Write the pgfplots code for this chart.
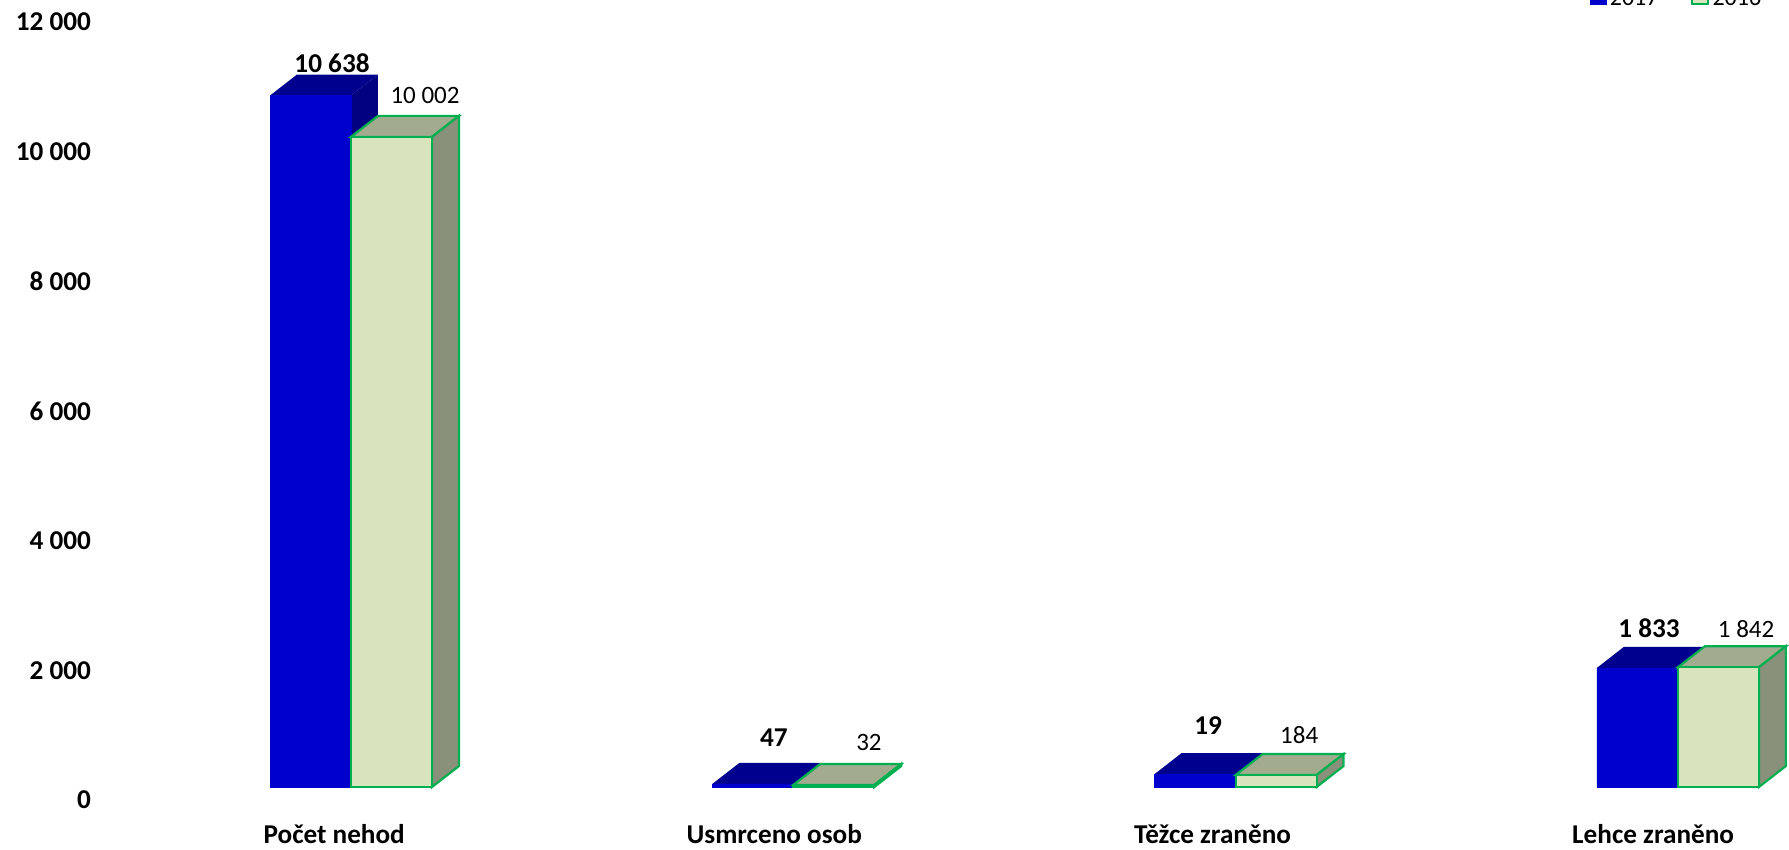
\documentclass[border=0pt]{standalone}
\usepackage{fontspec}
\setmainfont{Carlito}
\usepackage{pgfplots}
\pgfplotsset{compat=1.18}
\definecolor{bf}{HTML}{0000CC}
\definecolor{bt}{HTML}{00008F}
\definecolor{bs}{HTML}{000080}
\definecolor{gf}{HTML}{D8E4BC}
\definecolor{gt}{HTML}{A3AB8F}
\definecolor{gs}{HTML}{8A917A}
\definecolor{ge}{HTML}{00B050}
\newcommand\bfsz{\bfseries\fontsize{13.6}{16}\selectfont}
\newcommand\rgsz{\fontsize{12.5}{15}\selectfont}
% depth of the 3D look: dx in category units, dy in value units
\newcommand\faces[6]{% x0, x1, value, top colour, side colour, edge style
  \pgfmathsetmacro\xa{#1}\pgfmathsetmacro\xb{#2}%
  \pgfmathsetmacro\xc{#1+0.061}\pgfmathsetmacro\xd{#2+0.061}%
  \pgfmathsetmacro\yt{#3+323}%
  \addplot[forget plot,fill=#4,#6] coordinates {(\xa,#3)(\xb,#3)(\xd,\yt)(\xc,\yt)} -- cycle;
  \addplot[forget plot,fill=#5,#6] coordinates {(\xb,#3)(\xd,\yt)(\xd,323)(\xb,0)} -- cycle;
}
\begin{document}
\begin{tikzpicture}[x=1pt,y=1pt]
\path[use as bounding box] (0,0) rectangle (894.5,425);
\begin{axis}[
  at={(0,0)},anchor=south west,
  scale only axis,width=894.5pt,height=425pt,
  clip=false,
  xmin=-0.7936,xmax=3.2512,
  ymin=-969,ymax=12108,
  axis line style={draw=none},
  tick style={draw=none},
  xtick={-0.038,0.957,1.948,2.944},
  xticklabels={Počet nehod,Usmrceno osob,Těžce zraněno,Lehce zraněno},
  xticklabel style={font=\bfsz,anchor=center,yshift=8pt},
  ytick={-200,1795,3790,5785,7780,9775,11769},
  yticklabels={0,2 000,4 000,6 000,8 000,10 000,12 000},
  yticklabel style={font=\bfsz,anchor=east,xshift=49pt},
  legend style={at={(axis description cs:1,1)},anchor=south east,draw=none,fill=none,
    font=\fontsize{12}{14}\selectfont,legend columns=2,
    /tikz/every even column/.append style={column sep=14pt},xshift=-8.7pt,yshift=-8.5pt},
]
% blue series, side and top faces
\faces{-0.1831}{0}{10638}{bt}{bs}{draw=none}
\faces{0.8169}{1}{47}{bt}{bs}{draw=none}
\faces{1.8169}{2}{199}{bt}{bs}{draw=none}
\faces{2.8169}{3}{1833}{bt}{bs}{draw=none}
\addplot[ybar,bar width=40.5pt,bar shift=-20.25pt,fill=bf,draw=bf,line width=0.2pt,area legend,
  legend image code/.code={\draw[fill=bf,draw=bf] (0pt,-2.6pt) rectangle (8pt,5.4pt);}]
  coordinates {(0,10638)(1,47)(2,199)(3,1833)};
\addlegendentry{2017}
% green series, side and top faces
\faces{0}{0.1831}{10002}{gt}{gs}{draw=ge,line width=1.1pt}
\faces{1}{1.1831}{32}{gt}{gs}{draw=ge,line width=1.1pt}
\faces{2}{2.1831}{184}{gt}{gs}{draw=ge,line width=1.1pt}
\faces{3}{3.1831}{1842}{gt}{gs}{draw=ge,line width=1.1pt}
\addplot[ybar,bar width=40.5pt,bar shift=20.25pt,fill=gf,draw=ge,line width=1.1pt,area legend,
  legend image code/.code={\draw[fill=gf,draw=ge,line width=1pt] (0pt,-2.6pt) rectangle (8pt,5.4pt);}]
  coordinates {(0,10002)(1,32)(2,184)(3,1842)};
\addlegendentry{2016}
% value labels
\node[font=\bfsz] at (axis cs:-0.0429,11138) {10 638};
\node[font=\rgsz] at (axis cs:0.1673,10646) {10 002};
\node[font=\bfsz] at (axis cs:0.9562,754) {47};
\node[font=\rgsz] at (axis cs:1.1710,692) {32};
\node[font=\bfsz] at (axis cs:1.9379,938) {19};
\node[font=\rgsz] at (axis cs:2.1437,800) {184};
\node[font=\bfsz] at (axis cs:2.9349,2446) {1 833};
\node[font=\rgsz] at (axis cs:3.1542,2431) {1 842};
\end{axis}
\end{tikzpicture}
\end{document}
